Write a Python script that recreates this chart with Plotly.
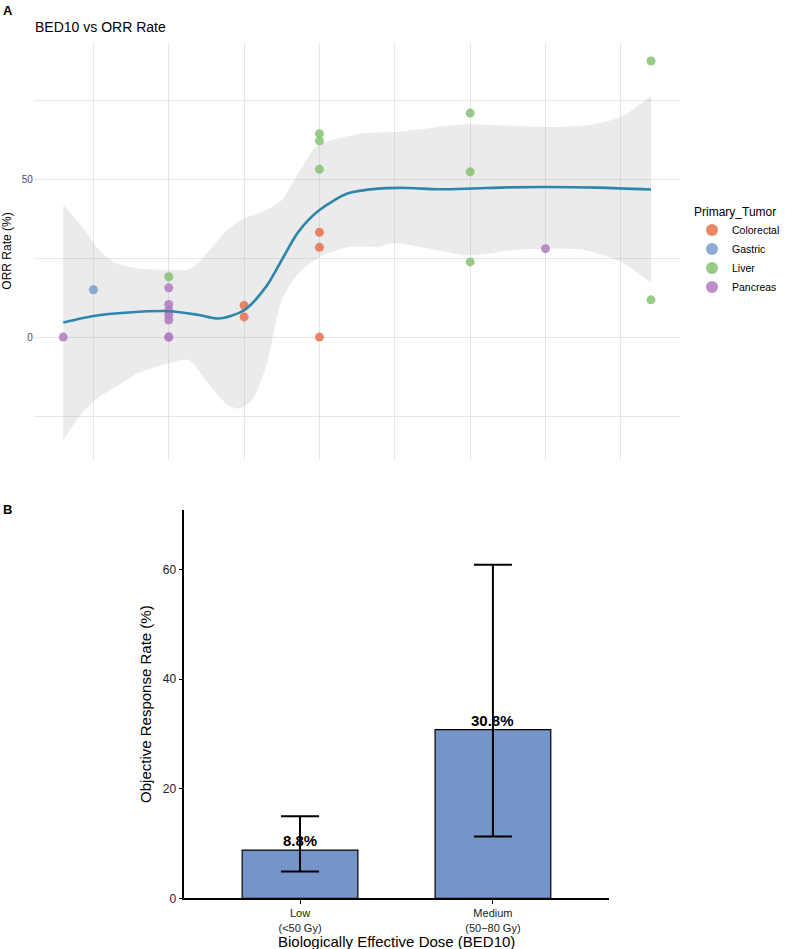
import plotly.graph_objects as go

# ---------------- Panel A data ----------------
tumors = ["Colorectal", "Gastric", "Liver", "Pancreas"]
tumor_colors = ["#E8714F", "#7B9BCD", "#86C272", "#B07BC2"]
colorectal_bed = [60, 60, 70, 70, 70]
colorectal_orr = [10.0, 6.4, 33.2, 28.4, 0.0]
gastric_bed = [40]
gastric_orr = [15.0]
liver_bed = [50, 70, 70, 70, 90, 90, 90, 114, 114]
liver_orr = [19.1, 64.4, 62.1, 53.1, 70.9, 52.3, 23.8, 87.4, 11.8]
pancreas_bed = [36, 50, 50, 50, 50, 50, 50, 50, 100]
pancreas_orr = [0.0, 15.6, 10.3, 8.5, 7.0, 5.4, 0.0, 0.0, 28.0]

smooth_bed = [36, 40, 44.7, 50, 54, 56.6, 60, 62.9, 65, 67.2, 70, 73.8, 77.8,
              81.8, 85.7, 90, 95, 100, 107, 114]
smooth_orr = [4.6, 6.7, 7.8, 8.2, 7.0, 5.9, 8.5, 15.9, 24.4, 33.3, 40.2, 45.5, 47.0,
              47.2, 46.8, 47.0, 47.4, 47.5, 47.3, 46.7]
upper_bed = [36, 38.5, 40.8, 43, 46, 50, 52.7, 54, 57.6, 60, 62.9, 65, 67.2, 69.5,
             71.6, 76.1, 80.4, 88, 90, 100, 105.2, 110, 114]
upper_orr = [41.8, 34.9, 27.5, 23.4, 21.8, 21.2, 21.5, 23.7, 33.5, 37.5, 40.2, 43.4,
             51.9, 60.1, 62.3, 64.6, 64.9, 67.1, 67.4, 66.5, 67.0, 69.7, 76.4]
lower_bed = [36, 38.5, 40.8, 43, 46, 50, 52.7, 54.9, 57.6, 59.3, 61, 62.9, 65, 67.2,
             70, 73.8, 77.8, 79.9, 90, 95.4, 100, 105.2, 110, 114]
lower_orr = [-32.6, -24.0, -18.9, -15.7, -11.4, -8.3, -7.3, -13.6, -21.0, -22.6, -20.0,
             -9.4, 11.7, 20.2, 25.3, 28.5, 28.6, 29.7, 25.9, 27.5, 28.0, 27.5, 23.8, 17.2]

# ---------------- Panel B data ----------------
dose_groups = ["Low<br>(<50 Gy)", "Medium<br>(50\u221280 Gy)"]
orr_rate = [8.8, 30.8]
ci_upper = [15.0, 60.9]
ci_lower = [4.9, 11.3]
bar_labels = ["8.8%", "30.8%"]

W, H = 785, 949
def px_x(p):
    return p / W
def px_y(p):
    return 1 - p / H

FONT = "Liberation Sans, Arial, Helvetica, sans-serif"

fig = go.Figure()

# CI band
fig.add_trace(go.Scatter(x=lower_bed, y=lower_orr, mode="lines",
                         line=dict(width=0, shape="spline", smoothing=0.8),
                         showlegend=False, hoverinfo="skip", xaxis="x", yaxis="y"))
fig.add_trace(go.Scatter(x=upper_bed, y=upper_orr, mode="lines",
                         line=dict(width=0, shape="spline", smoothing=0.8),
                         fill="tonexty", fillcolor="rgba(153,153,153,0.2)",
                         showlegend=False, hoverinfo="skip", xaxis="x", yaxis="y"))

series = [(colorectal_bed, colorectal_orr), (gastric_bed, gastric_orr),
          (liver_bed, liver_orr), (pancreas_bed, pancreas_orr)]
for name, col, (bx, oy) in zip(tumors, tumor_colors, series):
    fig.add_trace(go.Scatter(x=bx, y=oy, mode="markers", name=name,
                             marker=dict(color=col, size=9, opacity=0.85, line=dict(width=0)),
                             xaxis="x", yaxis="y"))

fig.add_trace(go.Scatter(x=smooth_bed, y=smooth_orr, mode="lines",
                         line=dict(color="#2E86AB", width=2.6, shape="spline", smoothing=0.8),
                         showlegend=False, hoverinfo="skip", xaxis="x", yaxis="y"))

# Panel B bars
fig.add_trace(go.Bar(x=dose_groups, y=orr_rate, width=0.6,
                     marker=dict(color="#7595C8", line=dict(color="black", width=1.2)),
                     error_y=dict(type="data", symmetric=False,
                                  array=[u - v for u, v in zip(ci_upper, orr_rate)],
                                  arrayminus=[v - l for v, l in zip(orr_rate, ci_lower)],
                                  color="black", thickness=2, width=19),
                     showlegend=False, xaxis="x2", yaxis="y2"))

annotations = []
for g, v, lab in zip(dose_groups, orr_rate, bar_labels):
    annotations.append(dict(x=g, y=v, xref="x2", yref="y2", text="<b>%s</b>" % lab,
                            showarrow=False, yanchor="bottom", yshift=-1,
                            font=dict(size=15, color="black", family=FONT)))

annotations += [
    dict(x=px_x(1), y=px_y(1), xref="paper", yref="paper", text="<b>A</b>",
         showarrow=False, xanchor="left", yanchor="top",
         font=dict(size=13, color="black", family=FONT)),
    dict(x=px_x(1), y=px_y(500), xref="paper", yref="paper", text="<b>B</b>",
         showarrow=False, xanchor="left", yanchor="top",
         font=dict(size=13, color="black", family=FONT)),
    dict(x=px_x(33), y=px_y(27), xref="paper", yref="paper", text="BED10 vs ORR Rate",
         showarrow=False, xanchor="left", yanchor="middle",
         font=dict(size=14, color="black", family=FONT)),
    dict(x=px_x(398), y=px_y(941), xref="paper", yref="paper",
         text="Biologically Effective Dose (BED10)",
         showarrow=False, xanchor="center", yanchor="middle",
         font=dict(size=15, color="black", family=FONT)),
]

grid = "#E6E6E6"
fig.update_layout(
    width=W, height=H,
    margin=dict(l=0, r=0, t=0, b=0),
    paper_bgcolor="white", plot_bgcolor="white",
    font=dict(family=FONT, color="black"),
    annotations=annotations,
    legend=dict(x=px_x(695), y=px_y(200), xanchor="left", yanchor="top",
                traceorder="normal",
                title=dict(text="Primary_Tumor", font=dict(size=12, color="black")),
                font=dict(size=10.5, color="black"), tracegroupgap=0,
                itemsizing="constant", bgcolor="rgba(0,0,0,0)"),
    xaxis=dict(domain=[px_x(34), px_x(683)], anchor="y",
               range=[32.1, 117.9], tickvals=[40, 50, 60, 70, 80, 90, 100, 110],
               showticklabels=False, ticks="", showgrid=True, gridcolor=grid, gridwidth=1,
               zeroline=False, showline=False),
    yaxis=dict(domain=[px_y(460), px_y(42)], anchor="x",
               range=[-38.9, 93.4], tickvals=[-25, 0, 25, 50, 75],
               ticktext=["", "0", "", "50", ""], ticks="", showgrid=True,
               gridcolor=grid, gridwidth=1, zeroline=False, showline=False,
               tickfont=dict(size=10, color="#4D4D4D"),
               title=dict(text="ORR Rate (%)", font=dict(size=12, color="black"), standoff=8),
               automargin=False),
    xaxis2=dict(domain=[px_x(185), px_x(611)], anchor="y2", range=[-0.6, 1.6],
                showline=True, linecolor="black", linewidth=1.5, ticks="outside",
                ticklen=4, tickcolor="black", tickwidth=1.2, showgrid=False,
                tickfont=dict(size=11, color="#222222"),
                automargin=False),
    yaxis2=dict(domain=[px_y(898.3), px_y(510)], anchor="x2", range=[0, 70.9],
                tickvals=[0, 20, 40, 60], showline=True, linecolor="black", linewidth=1.5,
                ticks="outside", ticklen=4, tickcolor="black", tickwidth=1.2,
                showgrid=False, zeroline=False, tickfont=dict(size=12, color="#222222"),
                title=dict(text="Objective Response Rate (%)",
                           font=dict(size=15, color="black"), standoff=8),
                automargin=False),
    bargap=0.4,
)

fig.write_html("out.html")
